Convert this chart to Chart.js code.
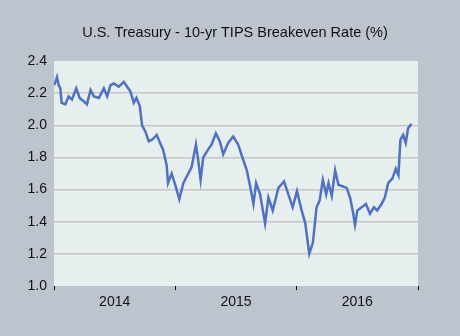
<!DOCTYPE html>
<html>
<head>
<meta charset="utf-8">
<script src="https://cdn.jsdelivr.net/npm/chart.js@4.4.1/dist/chart.umd.min.js"></script>
<style>
html,body{margin:0;padding:0;background:#bec4ce;}
canvas{display:block;}
</style>
</head>
<body>
<canvas id="c" width="460" height="336"></canvas>
<script>
const titleText = 'U.S. Treasury - 10-yr TIPS Breakeven Rate (%)';
const dates = [
'2014-01-02','2014-01-10','2014-01-15','2014-01-20','2014-01-24','2014-02-04','2014-02-14','2014-02-24',
'2014-03-09','2014-03-19','2014-03-31','2014-04-10','2014-04-21','2014-05-01','2014-05-16','2014-05-31',
'2014-06-10','2014-06-20','2014-06-30','2014-07-15','2014-07-30','2014-08-09','2014-08-19','2014-08-29',
'2014-09-06','2014-09-16','2014-09-23','2014-10-03','2014-10-13','2014-10-23','2014-11-06','2014-11-18',
'2014-11-25','2014-12-06','2014-12-10','2014-12-21','2015-01-02','2015-01-13','2015-01-25','2015-02-09',
'2015-02-19','2015-03-04','2015-03-11','2015-03-18','2015-03-26','2015-04-10','2015-04-20','2015-05-03',
'2015-05-15','2015-05-25','2015-06-09','2015-06-24','2015-07-09','2015-07-25','2015-08-04','2015-08-14',
'2015-08-24','2015-09-01','2015-09-13','2015-09-28','2015-10-08','2015-10-21','2015-11-07','2015-11-24',
'2015-12-07','2015-12-20','2016-01-02','2016-01-16','2016-01-27','2016-02-08','2016-02-19','2016-03-01',
'2016-03-10','2016-03-20','2016-03-30','2016-04-06','2016-04-16','2016-04-26','2016-05-06','2016-05-19',
'2016-05-31','2016-06-10','2016-06-18','2016-06-25','2016-07-02','2016-07-15','2016-07-28','2016-08-09',
'2016-08-21','2016-08-31','2016-09-13','2016-09-23','2016-10-03','2016-10-16','2016-10-26','2016-11-03',
'2016-11-09','2016-11-17','2016-11-25','2016-12-02','2016-12-12'
];
const rates = [
2.25,2.30,2.25,2.23,2.14,2.13,2.18,2.16,
2.23,2.17,2.15,2.13,2.22,2.18,2.17,2.23,
2.18,2.25,2.26,2.24,2.27,2.24,2.21,2.14,
2.17,2.12,2.00,1.96,1.90,1.91,1.94,1.88,
1.85,1.75,1.64,1.70,1.62,1.54,1.64,1.70,
1.74,1.88,1.78,1.66,1.80,1.85,1.88,1.95,
1.90,1.82,1.89,1.93,1.88,1.78,1.72,1.62,
1.51,1.64,1.57,1.39,1.55,1.47,1.61,1.65,
1.57,1.49,1.59,1.47,1.39,1.20,1.27,1.49,
1.53,1.66,1.57,1.64,1.56,1.72,1.63,1.62,
1.61,1.55,1.47,1.38,1.47,1.49,1.51,1.45,
1.49,1.47,1.51,1.55,1.64,1.67,1.73,1.69,
1.91,1.94,1.89,1.98,2.01
];
const yearLabels = ['2014','2015','2016'];
const yTicks = [1.0,1.2,1.4,1.6,1.8,2.0,2.2,2.4];

function toYear(s){
  const d = new Date(s + 'T00:00:00Z');
  const y = d.getUTCFullYear();
  const a = Date.UTC(y,0,1), b = Date.UTC(y+1,0,1);
  return y + (d.getTime() - a) / (b - a);
}
const points = dates.map((d,i)=>({x: toYear(d), y: rates[i]}));
const firstYear = parseInt(yearLabels[0],10);
const lastYear = parseInt(yearLabels[yearLabels.length-1],10) + 1;

const bgPlugin = {
  id:'bg',
  beforeDraw(chart){
    const {ctx, chartArea:a} = chart;
    ctx.save();
    ctx.fillStyle = '#bec4ce';
    ctx.fillRect(0,0,chart.width,chart.height);
    ctx.fillStyle = '#e7eeee';
    ctx.fillRect(a.left, a.top, a.right-a.left, a.bottom-a.top);
    ctx.restore();
  },
  afterDraw(chart){
    const ctx = chart.ctx;
    ctx.save();
    ctx.fillStyle = '#111';
    ctx.font = '14.5px "Liberation Sans", Arial, sans-serif';
    ctx.textAlign = 'center';
    ctx.textBaseline = 'middle';
    ctx.fillText(titleText, 235, 33);
    ctx.restore();
  }
};

new Chart(document.getElementById('c'), {
  type:'line',
  data:{datasets:[{
    data: points,
    borderColor:'#5071c1',
    borderWidth:2.5,
    pointRadius:0,
    tension:0,
    fill:false
  }]},
  options:{
    responsive:false,
    animation:false,
    layout:{padding:{left:0,right:42,top:61,bottom:0}},
    plugins:{
      legend:{display:false},
      tooltip:{enabled:false},
      title:{display:false}
    },
    scales:{
      x:{
        type:'linear',
        min:firstYear, max:lastYear,
        afterFit(s){ s.height = 50; },
        border:{display:false},
        grid:{drawOnChartArea:false, drawTicks:true, tickLength:4,
          tickColor:(c)=> (c.tick && Math.abs(c.tick.value % 1) < 1e-6) ? '#000' : 'rgba(0,0,0,0)', lineWidth:1},
        ticks:{stepSize:0.5, autoSkip:false, maxRotation:0, padding:4, color:'#111',
          font:{family:'"Liberation Sans", Arial, sans-serif',size:14},
          callback:(v)=>{ const f = v - Math.floor(v); if (Math.abs(f-0.5)<1e-6){ const i = Math.floor(v)-firstYear; return yearLabels[i] || ''; } return ''; }
        }
      },
      y:{
        min:yTicks[0], max:yTicks[yTicks.length-1],
        afterFit(s){ s.width = 54; },
        border:{display:false},
        afterBuildTicks(s){ s.ticks = yTicks.map(v=>({value:v})); },
        grid:{drawTicks:false, lineWidth:1.5,
          color:(c)=> (c.tick && (c.tick.value <= yTicks[0]+1e-6 || c.tick.value >= yTicks[yTicks.length-1]-1e-6)) ? 'rgba(0,0,0,0)' : '#c6c6c6'},
        ticks:{padding:7, color:'#111',
          font:{family:'"Liberation Sans", Arial, sans-serif',size:14},
          callback:(v)=> Number(v).toFixed(1)
        }
      }
    }
  },
  plugins:[bgPlugin]
});
</script>
</body>
</html>
